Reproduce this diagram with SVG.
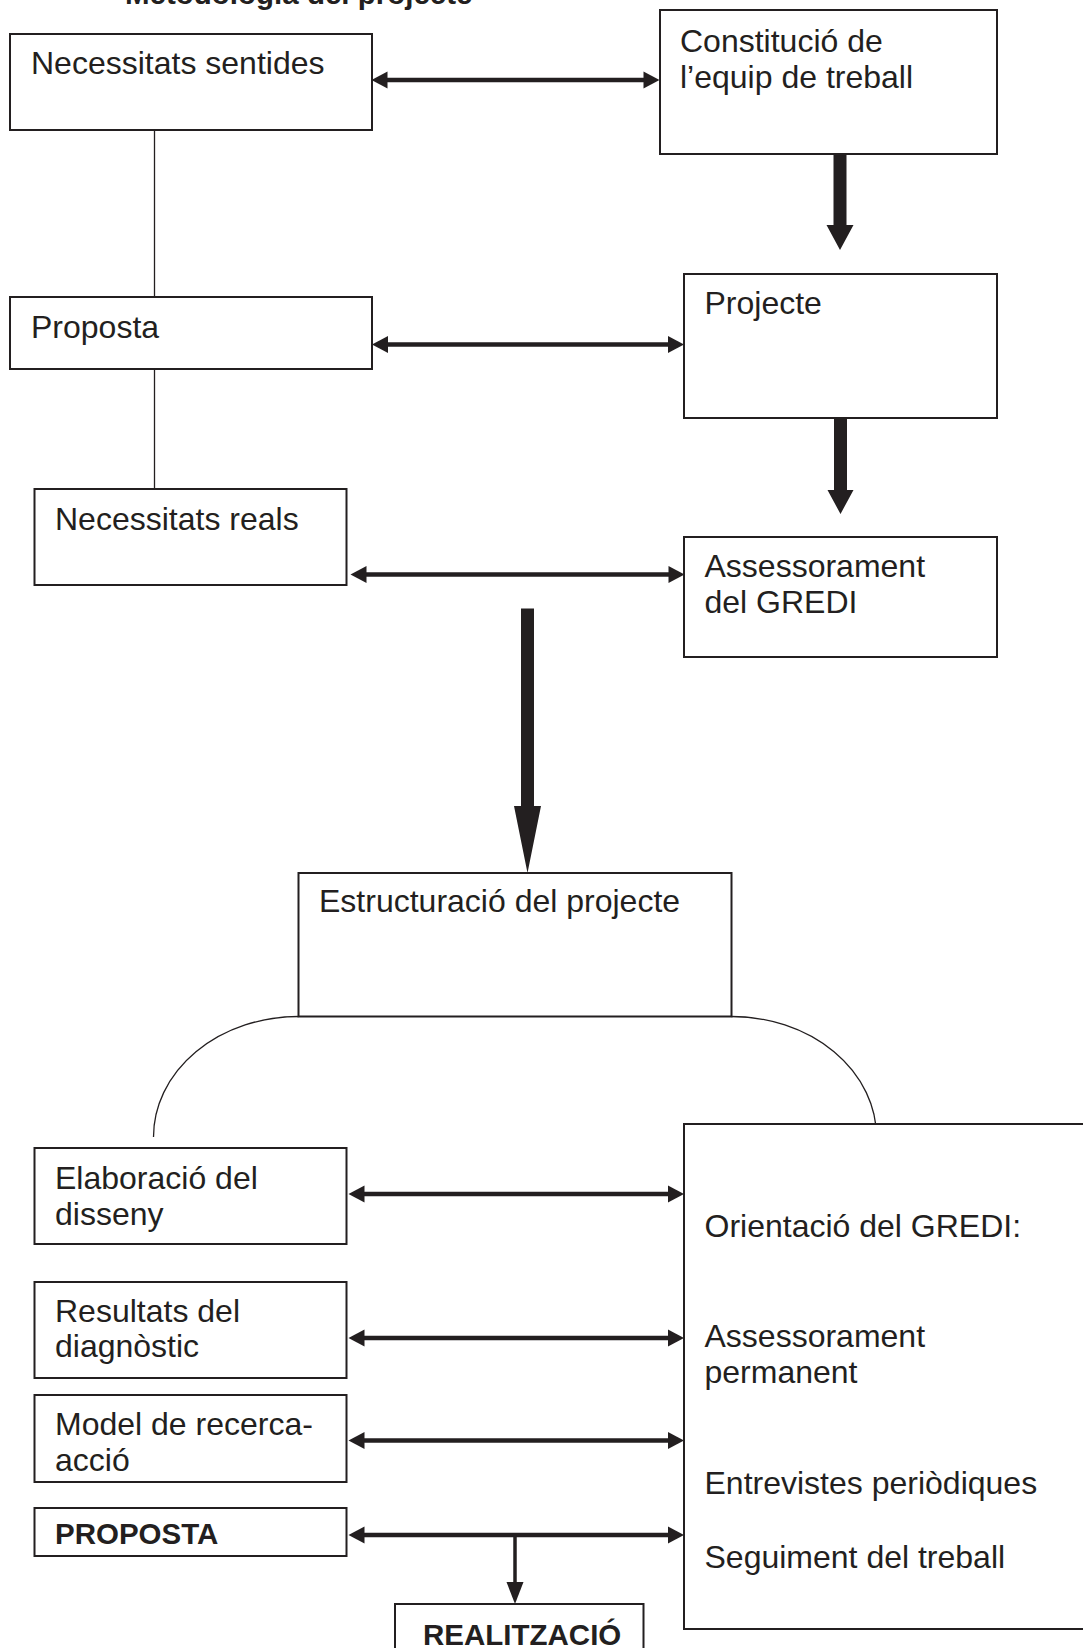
<svg xmlns="http://www.w3.org/2000/svg" width="1083" height="1648" viewBox="0 0 1083 1648">
<style>
.bg{fill:#ffffff}
.box{fill:#ffffff;stroke:#231f20;stroke-width:2}
.t{font-family:"Liberation Sans",Arial,sans-serif;font-size:32px;fill:#231f20}
.b{font-family:"Liberation Sans",Arial,sans-serif;font-size:29.5px;font-weight:bold;fill:#231f20}
.thin{fill:none;stroke:#231f20;stroke-width:1.3}
.dbl{fill:none;stroke:#231f20;stroke-width:4.5;marker-start:url(#ah);marker-end:url(#ah)}
.blk{fill:#231f20;stroke:none}
.down{fill:none;stroke:#231f20;stroke-width:3.5;marker-end:url(#ahs)}
</style>
<defs>
<marker id="ah" markerUnits="userSpaceOnUse" markerWidth="17" markerHeight="18" refX="2" refY="8.5" orient="auto-start-reverse" viewBox="0 0 17 17" overflow="visible">
<path d="M0,0 L16,8.5 L0,17 Z" fill="#231f20"/>
</marker>
<marker id="ahs" markerUnits="userSpaceOnUse" markerWidth="23" markerHeight="18" refX="1" refY="8.5" orient="auto" viewBox="0 0 23 17" overflow="visible">
<path d="M0,0 L22,8.5 L0,17 Z" fill="#231f20"/>
</marker>
</defs>
<rect class="bg" x="0" y="0" width="1083" height="1648"/>
<text class="b" x="125" y="4">Metodologia del projecte</text>
<g id="connectors">
<line class="thin" x1="154.5" y1="130" x2="154.5" y2="297"/>
<line class="thin" x1="154.5" y1="369" x2="154.5" y2="489"/>
<path class="thin" d="M298.5,1016.5 A145,120.5 0 0 0 153.5,1137"/>
<path class="thin" d="M731.5,1016.5 A145,120.5 0 0 1 876.5,1137"/>
<line class="dbl" x1="385.5" y1="80" x2="645.5" y2="80"/>
<line class="dbl" x1="386" y1="344.5" x2="670" y2="344.5"/>
<line class="dbl" x1="364.5" y1="574.5" x2="670.5" y2="574.5"/>
<line class="dbl" x1="362.5" y1="1194" x2="670" y2="1194"/>
<line class="dbl" x1="362.5" y1="1338" x2="670" y2="1338"/>
<line class="dbl" x1="362.5" y1="1440.5" x2="670" y2="1440.5"/>
<line class="dbl" x1="362.5" y1="1535" x2="670" y2="1535"/>
<line class="down" x1="515" y1="1535" x2="515" y2="1583"/>
<path class="blk" d="M833.5,154 H846.5 V225 H853.5 L840,250 L826.5,225 H833.5 Z"/>
<path class="blk" d="M834,418 H847 V490 H853.5 L840.5,514 L827.5,490 H834 Z"/>
<path class="blk" d="M521,608.5 H534 V806 H541 L527.5,873 L514,806 H521 Z"/>
</g>
<g id="n1"><rect class="box" x="10" y="34" width="362" height="96"/><text class="t" x="31" y="74">Necessitats sentides</text></g>
<g id="n2"><rect class="box" x="660" y="10" width="337" height="144"/><text class="t" x="680" y="51.5">Constitució de</text><text class="t" x="680" y="87.5">l’equip de treball</text></g>
<g id="n3"><rect class="box" x="684" y="274" width="313" height="144"/><text class="t" x="704.5" y="314">Projecte</text></g>
<g id="n4"><rect class="box" x="10" y="297" width="362" height="72"/><text class="t" x="31" y="337.5">Proposta</text></g>
<g id="n5"><rect class="box" x="34.5" y="489" width="312" height="96"/><text class="t" x="55" y="529.5">Necessitats reals</text></g>
<g id="n6"><rect class="box" x="684" y="537" width="313" height="120"/><text class="t" x="704.5" y="577">Assessorament</text><text class="t" x="704.5" y="613">del GREDI</text></g>
<g id="n7"><rect class="box" x="298.5" y="873" width="433" height="143.5"/><text class="t" x="319" y="912">Estructuració del projecte</text></g>
<g id="n8"><rect class="box" x="684" y="1124" width="420" height="505"/>
<text class="t" x="704.5" y="1237">Orientació del GREDI:</text>
<text class="t" x="704.5" y="1347">Assessorament</text>
<text class="t" x="704.5" y="1383">permanent</text>
<text class="t" x="704.5" y="1494">Entrevistes periòdiques</text>
<text class="t" x="704.5" y="1567.5">Seguiment del treball</text></g>
<g id="n9"><rect class="box" x="34.5" y="1148" width="312" height="96"/><text class="t" x="55" y="1189">Elaboració del</text><text class="t" x="55" y="1224.5">disseny</text></g>
<g id="n10"><rect class="box" x="34.5" y="1282" width="312" height="96"/><text class="t" x="55" y="1322">Resultats del</text><text class="t" x="55" y="1357">diagnòstic</text></g>
<g id="n11"><rect class="box" x="34.5" y="1395" width="312" height="87"/><text class="t" x="55" y="1435">Model de recerca-</text><text class="t" x="55" y="1470.5">acció</text></g>
<g id="n12"><rect class="box" x="34.5" y="1508" width="312" height="48"/><text class="b" x="55" y="1544">PROPOSTA</text></g>
<g id="n13"><rect class="box" x="395" y="1604" width="248.5" height="60"/><text class="b" x="423" y="1645">REALITZACIÓ</text></g>
</svg>
